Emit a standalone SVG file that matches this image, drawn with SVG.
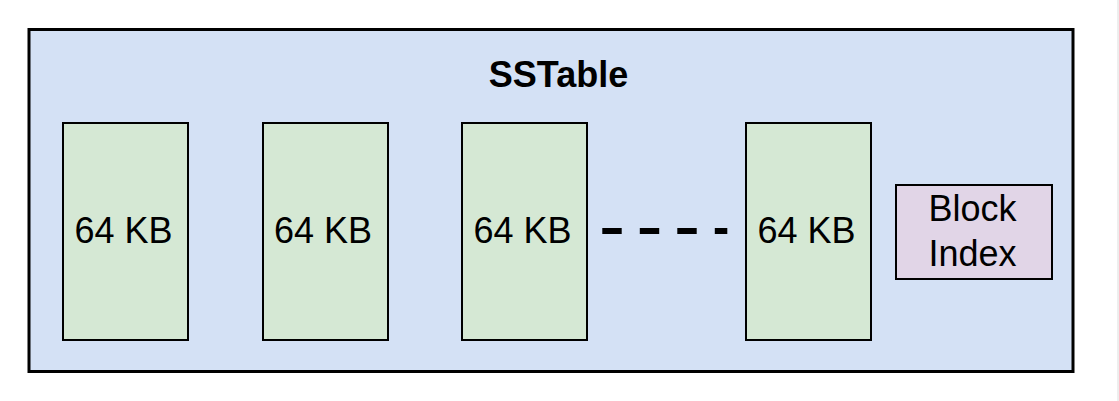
<svg xmlns="http://www.w3.org/2000/svg" width="1119" height="401" viewBox="0 0 1119 401">
<style>
.blk{fill:#d5e8d4;stroke:#000;stroke-width:2}
.lbl{font-family:"Liberation Sans",Arial,sans-serif;font-size:36px;fill:#000;text-anchor:middle}
</style>
<rect x="0" y="0" width="1119" height="401" fill="#ffffff"/>
<line x1="1118" y1="0" x2="1118" y2="401" stroke="#dcdcdc" stroke-width="1"/>
<g id="sstable">
<rect x="29" y="29.5" width="1044" height="342" fill="#d4e1f5" stroke="#000" stroke-width="3"/>
<text class="lbl" x="558.5" y="86.5" font-weight="bold">SSTable</text>
</g>
<g id="block1">
<rect class="blk" x="63" y="123" width="125" height="217"/>
<text class="lbl" x="123.5" y="243">64 KB</text>
</g>
<g id="block2">
<rect class="blk" x="263" y="123" width="125" height="217"/>
<text class="lbl" x="323" y="243">64 KB</text>
</g>
<g id="block3">
<rect class="blk" x="462" y="123" width="125" height="217"/>
<text class="lbl" x="522.5" y="243">64 KB</text>
</g>
<g id="block4">
<rect class="blk" x="746" y="123" width="125" height="217"/>
<text class="lbl" x="806.5" y="243">64 KB</text>
</g>
<g id="blockindex">
<rect x="896" y="185" width="156" height="94" fill="#e1d5e7" stroke="#000" stroke-width="2"/>
<text class="lbl" x="972.5" y="220.5">Block</text>
<text class="lbl" x="972.5" y="266">Index</text>
</g>
<g id="connectors">
<line x1="602.3" y1="231" x2="727.3" y2="231" stroke="#000" stroke-width="6" stroke-dasharray="19.4 18.1"/>
</g>
</svg>
